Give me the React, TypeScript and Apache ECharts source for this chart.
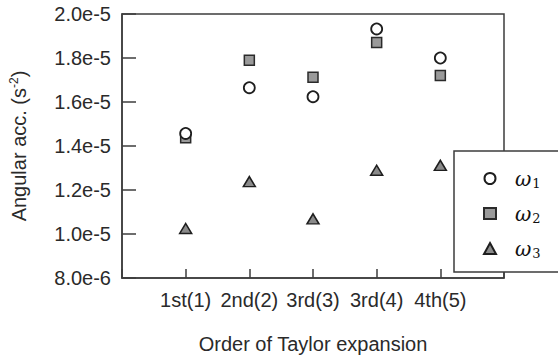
import React, { useEffect, useRef } from "react";
import * as echarts from "echarts";

// Expansion orders on the x axis
const orders = ["1st(1)", "2nd(2)", "3rd(3)", "3rd(4)", "4th(5)"];
// Angular acceleration values (s^-2)
const omega1 = [1.457e-5, 1.665e-5, 1.624e-5, 1.932e-5, 1.8e-5];
const omega2 = [1.437e-5, 1.79e-5, 1.713e-5, 1.871e-5, 1.72e-5];
const omega3 = [1.025e-5, 1.238e-5, 1.069e-5, 1.29e-5, 1.312e-5];
// Y axis range and step
const yMin = 8e-6;
const yMax = 2e-5;
const yStep = 2e-6;

const FONT = "'Liberation Sans', Arial, sans-serif";
const SERIF = "'DejaVu Serif', 'Liberation Serif', serif";
const INK = "#2a2a2a";
const FRAME = "#3c3c3c";

export default function App() {
  const ref = useRef<HTMLDivElement>(null);

  useEffect(() => {
    if (!ref.current) return;
    const chart = echarts.init(ref.current, undefined, { renderer: "svg" });

    // padded category list so the points sit one band in from each edge
    const cats = ["", ...orders, " "];
    const toPairs = (vals: number[]) => orders.map((c, i) => [c, vals[i]]);

    const legendRich = {
      w: { fontFamily: SERIF, fontStyle: "italic", fontSize: 20, color: "#111", lineHeight: 22, padding: [0, 0, 0, 14] },
      sub: { fontFamily: SERIF, fontSize: 13, color: "#111", padding: [10, 0, 0, 1], lineHeight: 22 },
    };

    chart.setOption({
      animation: false,
      backgroundColor: "#ffffff",
      grid: {
        left: 119,
        right: 54,
        top: 14,
        bottom: 73,
        show: true,
        borderColor: FRAME,
        borderWidth: 1.5,
        backgroundColor: "transparent",
      },
      xAxis: {
        type: "category",
        data: cats,
        boundaryGap: false,
        name: "Order of Taylor expansion",
        nameLocation: "middle",
        nameGap: 56,
        nameTextStyle: { fontFamily: FONT, fontSize: 20, color: INK },
        axisLine: { lineStyle: { color: FRAME, width: 1.5 } },
        axisTick: { inside: true, length: 9, lineStyle: { color: FRAME, width: 1.5 } },
        axisLabel: { fontFamily: FONT, fontSize: 20, color: INK, margin: 12, interval: 0 },
        splitLine: { show: false },
      },
      yAxis: {
        type: "value",
        min: yMin,
        max: yMax,
        interval: yStep,
        name: "{a|Angular acc. (s}{sup|-2}{a|)}",
        nameLocation: "middle",
        nameGap: 92,
        nameTextStyle: {
          rich: {
            a: { fontFamily: FONT, fontSize: 20, color: INK },
            sup: { fontFamily: FONT, fontSize: 12, color: INK, padding: [0, 0, 10, 0] },
          },
        },
        axisLine: { show: true, lineStyle: { color: FRAME, width: 1.5 } },
        axisTick: { show: true, inside: true, length: 14, lineStyle: { color: FRAME, width: 1.5 } },
        axisLabel: {
          fontFamily: FONT,
          fontSize: 20,
          color: INK,
          margin: 11,
          formatter: (v: number) => v.toExponential(1),
        },
        splitLine: { show: false },
      },
      graphic: [
        {
          type: "rect",
          z: 3,
          shape: { x: 454, y: 151, width: 130, height: 121 },
          style: { fill: "#ffffff", stroke: FRAME, lineWidth: 1.5 },
        },
      ],
      legend: {
        orient: "vertical",
        left: 483,
        top: 167,
        itemWidth: 12,
        itemHeight: 11,
        itemGap: 12,
        z: 10,
        padding: 0,
        data: ["ω1", "ω2", "ω3"],
        formatter: (name: string) => `{w|ω}{sub|${name.slice(1)}}`,
        textStyle: { rich: legendRich },
      },
      series: [
        {
          name: "ω1",
          type: "scatter",
          symbol: "circle",
          symbolSize: 11,
          data: toPairs(omega1),
          itemStyle: { color: "#ffffff", borderColor: "#1e1e1e", borderWidth: 1.8, opacity: 1 },
          z: 3,
        },
        {
          name: "ω2",
          type: "scatter",
          symbol: "rect",
          symbolSize: 10,
          data: toPairs(omega2),
          itemStyle: { color: "#9a9a9a", borderColor: "#2a2a2a", borderWidth: 1.5, opacity: 1 },
          z: 2,
        },
        {
          name: "ω3",
          type: "scatter",
          symbol: "triangle",
          symbolSize: [12, 10],
          data: toPairs(omega3),
          itemStyle: { color: "#8a8a8a", borderColor: "#1e1e1e", borderWidth: 1.5, opacity: 1 },
          z: 2,
        },
      ],
    });

    return () => chart.dispose();
  }, []);

  return (
    <div
      ref={ref}
      style={{ position: "fixed", left: 0, top: 0, width: 558, height: 359 }}
    />
  );
}
